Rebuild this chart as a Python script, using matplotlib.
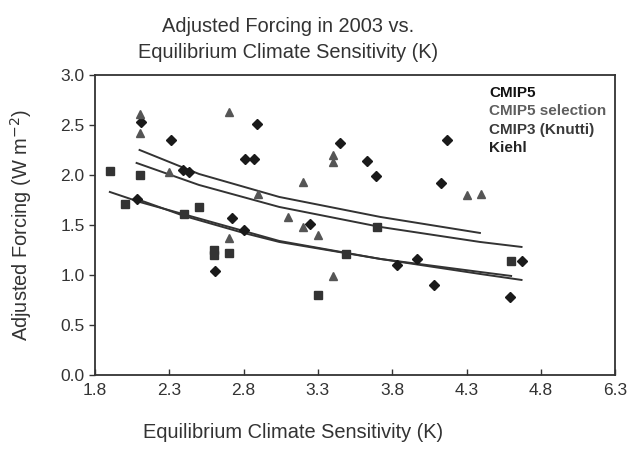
import matplotlib.pyplot as plt

plt.rcParams['font.family'] = ['Liberation Sans', 'DejaVu Sans']

# model points (ECS in K, adjusted forcing in W m-2)
cmip5_x = [2.11, 2.89, 2.31, 2.81, 2.87, 2.39, 2.43, 2.08, 2.72, 2.80, 3.45, 3.63,
           3.69, 4.17, 4.13, 3.25, 2.61, 3.83, 3.97, 4.08, 4.67, 4.59]
cmip5_y = [2.53, 2.51, 2.35, 2.16, 2.16, 2.05, 2.03, 1.76, 1.57, 1.45, 2.32, 2.14,
           1.99, 2.35, 1.92, 1.51, 1.04, 1.10, 1.16, 0.90, 1.14, 0.78]

cmip3_x = [2.10, 2.10, 2.70, 2.30, 2.90, 3.10, 2.70, 3.40, 3.40, 3.20, 3.20, 3.30,
           3.40, 4.30, 4.40]
cmip3_y = [2.61, 2.42, 2.63, 2.03, 1.81, 1.58, 1.37, 2.20, 2.13, 1.93, 1.48, 1.40,
           0.99, 1.80, 1.81]

kiehl_x = [1.90, 2.10, 2.00, 2.50, 2.40, 2.60, 2.60, 2.70, 3.70, 3.49, 3.30, 4.60]
kiehl_y = [2.04, 2.00, 1.71, 1.68, 1.61, 1.25, 1.20, 1.22, 1.48, 1.21, 0.80, 1.14]

# fitted curves, sampled by eye along each line
fitA_x = [2.10, 2.50, 3.04, 3.72, 4.39]
fitA_y = [2.25, 2.01, 1.78, 1.58, 1.42]
fitB_x = [2.08, 2.50, 3.04, 3.72, 4.39, 4.67]
fitB_y = [2.12, 1.90, 1.68, 1.48, 1.33, 1.28]
fitC_x = [1.90, 2.10, 2.39, 2.80, 3.04, 3.72, 4.39, 4.60]
fitC_y = [1.83, 1.73, 1.61, 1.44, 1.34, 1.16, 1.03, 0.99]
fitD_x = [2.08, 2.40, 2.80, 3.04, 3.72, 4.39, 4.67]
fitD_y = [1.76, 1.59, 1.42, 1.33, 1.16, 1.01, 0.95]

xticks = [1.8, 2.3, 2.8, 3.3, 3.8, 4.3, 4.8, 5.3]
xtick_labels = ['1.8', '2.3', '2.8', '3.3', '3.8', '4.3', '4.8', '6.3']
yticks = [0.0, 0.5, 1.0, 1.5, 2.0, 2.5, 3.0]

legend_names = ['CMIP5', 'CMIP5 selection', 'CMIP3 (Knutti)', 'Kiehl']
legend_colors = ['#111111', '#5e5e5e', '#3a3a3a', '#222222']

fig = plt.figure(figsize=(6.29, 4.49), dpi=100)
ax = fig.add_axes([0.151, 0.165, 0.827, 0.668])

for fx, fy in [(fitA_x, fitA_y), (fitB_x, fitB_y), (fitC_x, fitC_y), (fitD_x, fitD_y)]:
    ax.plot(fx, fy, '-', color='#333333', lw=1.4, zorder=2)

ax.plot(cmip5_x, cmip5_y, 'D', color='#1a1a1a', ms=5, ls='none', zorder=3)
ax.plot(cmip3_x, cmip3_y, '^', color='#555555', ms=5.5, ls='none', zorder=3)
ax.plot(kiehl_x, kiehl_y, 's', color='#333333', ms=5.5, ls='none', zorder=3)

ax.set_xlim(1.8, 5.3)
ax.set_ylim(0, 3.0)
ax.set_xticks(xticks)
ax.set_xticklabels(xtick_labels)
ax.set_yticks(yticks)
ax.set_yticklabels(['%.1f' % v for v in yticks])
ax.tick_params(labelsize=12.5, colors='#333333', length=4, width=1, direction='out')
ax.tick_params(axis='x', direction='in', pad=6)
for s in ax.spines.values():
    s.set_color('#333333')
    s.set_linewidth(1.3)

ax.set_xlabel('Equilibrium Climate Sensitivity (K)', fontsize=14.4, color='#333333')
ax.xaxis.set_label_coords(0.38, -0.16)
ax.set_ylabel('Adjusted Forcing (W m$^{-2}$)', fontsize=14.4, color='#333333')
ax.yaxis.set_label_coords(-0.117, 0.5)
fig.text(0.458, 0.912, 'Adjusted Forcing in 2003 vs.\nEquilibrium Climate Sensitivity (K)',
         ha='center', va='center', fontsize=14.4, color='#333333', linespacing=1.5)

for i, (name, col) in enumerate(zip(legend_names, legend_colors)):
    ax.text(0.758, 0.94 - i * 0.061, name, transform=ax.transAxes, fontsize=11,
            fontweight='bold', color=col, va='center', ha='left')

fig.savefig('out.png', dpi=100)
